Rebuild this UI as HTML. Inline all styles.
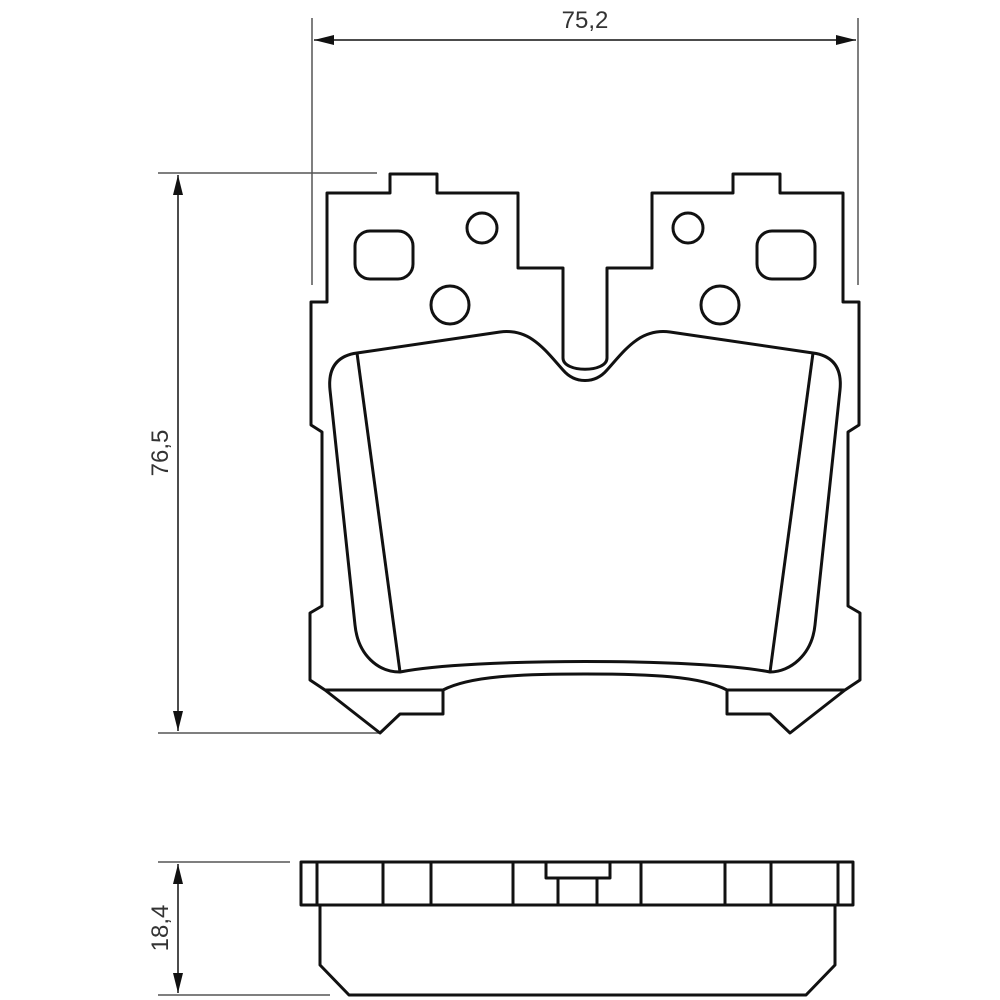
<!DOCTYPE html>
<html><head><style>body{margin:0;background:#fff}svg{display:block}</style></head>
<body>
<svg width="1000" height="1000" viewBox="0 0 1000 1000" xmlns="http://www.w3.org/2000/svg">
<defs>
<marker id="a" viewBox="0 0 20 10" refX="20" refY="5" markerWidth="20" markerHeight="10" markerUnits="userSpaceOnUse" orient="auto-start-reverse"><path d="M0,0 L20,5 L0,10 Z" fill="#111"/></marker>
</defs>
<g stroke="#555" stroke-width="1.5" fill="none">
<line x1="312" y1="18" x2="312" y2="285"/>
<line x1="858" y1="18" x2="858" y2="285"/>
<line x1="158" y1="173" x2="377" y2="173"/>
<line x1="158" y1="733" x2="380" y2="733"/>
<line x1="158" y1="862" x2="290" y2="862"/>
<line x1="158" y1="995" x2="330" y2="995"/>
</g>
<g stroke="#111" stroke-width="1.5">
<line x1="314" y1="40" x2="856" y2="40" marker-start="url(#a)" marker-end="url(#a)"/>
<line x1="178" y1="175" x2="178" y2="731" marker-start="url(#a)" marker-end="url(#a)"/>
<line x1="178" y1="864" x2="178" y2="993" marker-start="url(#a)" marker-end="url(#a)"/>
</g>
<g font-family="Liberation Sans, sans-serif" font-size="24" fill="#333" text-anchor="middle">
<text x="585" y="28">75,2</text>
<text transform="translate(168,453) rotate(-90)">76,5</text>
<text transform="translate(168,928) rotate(-90)">18,4</text>
</g>
<g stroke="#111" stroke-width="3" fill="none" stroke-linejoin="round">
<path d="M390,174 L437,174 L437,193 L518,193 L518,268 L563,268 L563,358 C563,373 607,373 607,358 L607,268 L652,268 L652,193 L733,193 L733,174 L780,174 L780,193 L843,193 L843,302 L859,302 L859,425 L848,432 L848,606 L860,613 L860,680 L845,690 L790,733 L770,714 L727,714 L727,690 C700,676 650,674 585,674 C520,674 470,676 443,690 L443,714 L400,714 L380,733 L325,690 L310,680 L310,613 L322,606 L322,432 L311,425 L311,302 L327,302 L327,193 L390,193 Z"/>
<path d="M357,353 L500,332 C530,328 545,350 563,370 C575,384 595,384 607,370 C625,350 640,328 670,332 L813,353 C835,356 842,370 840,390 L815,625 C812,655 790,672 770,672 C700,658 470,658 400,672 C378,672 358,655 355,625 L330,390 C328,370 335,356 357,353 Z"/>
<line x1="357" y1="353" x2="400" y2="672"/>
<line x1="813" y1="353" x2="770" y2="672"/>
<line x1="325" y1="690" x2="443" y2="690"/>
<line x1="727" y1="690" x2="845" y2="690"/>
<rect x="355" y="231" width="58" height="48" rx="15"/>
<rect x="757" y="231" width="58" height="48" rx="15"/>
<circle cx="482" cy="228" r="15"/>
<circle cx="688" cy="228" r="15"/>
<circle cx="450" cy="305" r="19"/>
<circle cx="720" cy="305" r="19"/>
<rect x="301" y="862" width="552" height="43"/>
<path d="M320,905 L320,965 L349,995 L806,995 L835,965 L835,905"/>
<path d="M317,862 V905 M383,862 V905 M431,862 V905 M513,862 V905 M641,862 V905 M725,862 V905 M771,862 V905 M838,862 V905"/>
<path d="M546,862 V878 H610 V862 M558,878 V905 M597,878 V905"/>
</g>
</svg>
</body></html>
